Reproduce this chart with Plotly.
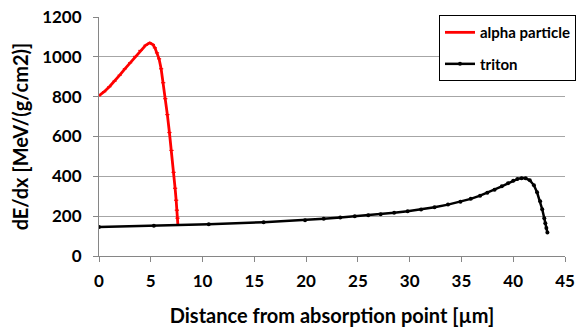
import plotly.graph_objects as go

alpha_x = [0, 0.5, 1, 1.5, 2, 2.5, 3, 3.5, 4, 4.5, 4.9, 5.2, 5.4, 5.6, 5.8, 6.0, 6.2, 6.4, 6.6, 6.8, 7.0, 7.2, 7.35, 7.45, 7.52, 7.58, 7.62]
alpha_y = [805, 825, 850, 878, 908, 940, 970, 1002, 1032, 1058, 1070, 1062, 1045, 1020, 990, 940, 870, 790, 710, 620, 530, 420, 340, 280, 230, 190, 155]

triton_x = [0, 5.3, 10.6, 15.9, 19.9, 21.7, 23.3, 24.7, 26, 27.2, 28.5, 29.8, 31.1, 32.4, 33.7, 34.9, 35.9, 36.8, 37.5, 38.2, 38.9, 39.5, 40.0, 40.4, 40.8, 41.2, 41.6, 42.0, 42.3, 42.6, 42.8, 43.0, 43.1, 43.2, 43.3]
triton_y = [145, 152, 160, 170, 180, 187, 193, 199, 205, 210, 217, 225, 234, 245, 258, 272, 287, 303, 318, 333, 350, 365, 378, 386, 391, 390, 380, 355, 320, 275, 235, 190, 165, 140, 118]

FONT = "Lato"

fig = go.Figure()
fig.add_trace(go.Scatter(x=alpha_x, y=alpha_y, mode="lines+markers", name="alpha particle",
                         legendgroup="a",
                         line=dict(color="#ff0000", width=2.8),
                         marker=dict(color="#ff0000", size=3, symbol="line-ew-open",
                                     line=dict(color="#ff0000", width=1.2))))
fig.add_trace(go.Scatter(x=triton_x, y=triton_y, mode="lines+markers", name="triton",
                         legendgroup="b",
                         line=dict(color="#000000", width=2.5),
                         marker=dict(color="#000000", size=4)))

fig.update_layout(
    width=581, height=327,
    margin=dict(l=99, r=16, t=17, b=71, autoexpand=False),
    paper_bgcolor="white", plot_bgcolor="white",
    font=dict(family=FONT, size=13, color="#000000"),
    showlegend=True,
    legend=dict(x=1.0236, y=1.008, xanchor="right", yanchor="top",
                bgcolor="white", bordercolor="#000000", borderwidth=1,
                font=dict(family=FONT, size=15, color="#000000", weight="bold"),
                tracegroupgap=9, itemwidth=30),
    xaxis=dict(range=[0, 45], dtick=5, tick0=0, showgrid=False, zeroline=False, automargin=False,
               showline=True, linecolor="#868686", linewidth=1,
               ticks="outside", ticklen=5, tickcolor="#868686", ticklabelstandoff=5,
               tickfont=dict(family=FONT, size=17, weight="bold"),
               title=dict(text="Distance from absorption point [µm]",
                          font=dict(family=FONT, size=20, weight="bold"), standoff=18)),
    yaxis=dict(range=[0, 1200], dtick=200, tick0=0, showgrid=True, gridcolor="#a6a6a6", gridwidth=1,
               zeroline=False, showline=True, linecolor="#868686", linewidth=1, automargin=False,
               ticks="outside", ticklen=5, tickcolor="#868686", ticklabelstandoff=8,
               tickfont=dict(family=FONT, size=17, weight="bold"),
               title=dict(text="dE/dx [MeV/(g/cm2)]",
                          font=dict(family=FONT, size=20, weight="bold"), standoff=8)),
)

fig.write_html("out.html")
